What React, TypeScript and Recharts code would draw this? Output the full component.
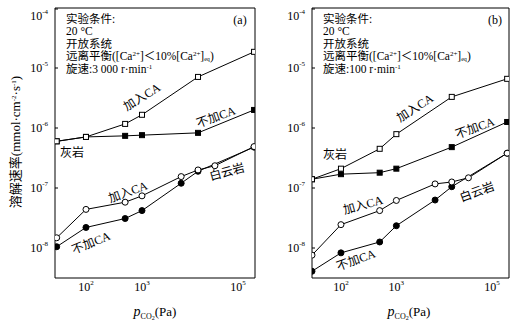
import React from "react";
import { LineChart, Line, XAxis, YAxis } from "recharts";

// CO2 partial pressures (Pa)
const P_LIME = [30, 100, 500, 1000, 10000, 100000];
const P_DOLO_CA = [30, 100, 500, 1000, 5000, 10000, 20000, 100000];
const P_DOLO_NO = [30, 100, 500, 1000, 5000, 10000, 100000];

// (a) 3000 r/min — dissolution rate, mmol·cm-2·s-1
const A_LIME_CA = [6.0e-7, 7.1e-7, 1.17e-6, 1.66e-6, 7.1e-6, 1.86e-5];
const A_LIME_NO = [6.0e-7, 7.1e-7, 7.4e-7, 7.6e-7, 8.3e-7, 2.0e-6];
const A_DOLO_CA = [1.48e-8, 4.4e-8, 5.8e-8, 7.4e-8, 1.55e-7, 2.0e-7, 2.35e-7, 4.9e-7];
const A_DOLO_NO = [1.05e-8, 2.2e-8, 3.1e-8, 4.2e-8, 1.2e-7, 1.9e-7, 4.8e-7];

// (b) 100 r/min
const B_LIME_CA = [1.4e-7, 2.1e-7, 4.5e-7, 7.9e-7, 3.3e-6, 6.6e-6];
const B_LIME_NO = [1.4e-7, 1.7e-7, 1.8e-7, 2.1e-7, 4.8e-7, 1.26e-6];
const B_DOLO_CA = [7.6e-9, 2.45e-8, 4.2e-8, 6.2e-8, 1.17e-7, 1.26e-7, 1.48e-7, 3.8e-7];
const B_DOLO_NO = [4.1e-9, 8.3e-9, 1.26e-8, 2.35e-8, 6.3e-8, 1.05e-7, 3.8e-7];

const X_TICKS = [100, 1000, 10000, 100000];
const Y_TICKS = [1e-8, 1e-7, 1e-6, 1e-5, 1e-4];

const SERIF = '"Liberation Serif", "Times New Roman", "Noto Sans CJK SC", serif';

const zip = (p: number[], v: number[]) => p.map((x, i) => ({ p: x, v: v[i] }));

const exp = (v: number) => Math.round(Math.log10(v));

const YTick = (props: any) => {
  const { x, y, payload } = props;
  const e = exp(payload.value);
  const ty = e === -4 ? y + 7 : y;
  return (
    <g>
      <line x1={x + 6} x2={x + 9} y1={y} y2={y} stroke="#000" />
      <text x={x - 1} y={ty + 4} textAnchor="end" fontFamily={SERIF} fontSize={12} fill="#000">
        10
        <tspan dy={-6} fontSize={7}>
          -{Math.abs(e)}
        </tspan>
      </text>
    </g>
  );
};

const XTick = (props: any) => {
  const { x, y, payload } = props;
  return (
    <text x={x} y={y + 9} textAnchor="middle" fontFamily={SERIF} fontSize={12} fill="#000">
      10
      <tspan dy={-6} fontSize={7}>
        {exp(payload.value)}
      </tspan>
    </text>
  );
};

const square = (filled: boolean) => (p: any) => (
  <rect
    key={`s${p.index}`}
    x={p.cx - 2.5}
    y={p.cy - 2.5}
    width={5}
    height={5}
    fill={filled ? "#000" : "#fff"}
    stroke="#000"
    strokeWidth={1}
  />
);

const circle = (filled: boolean) => (p: any) => (
  <circle key={`c${p.index}`} cx={p.cx} cy={p.cy} r={3} fill={filled ? "#000" : "#fff"} stroke="#000" strokeWidth={1} />
);

interface PanelProps {
  left: number;
  width: number;
  xDomain: [number, number];
  limeCa: number[];
  limeNo: number[];
  doloCa: number[];
  doloNo: number[];
}

function Panel({ left, width, xDomain, limeCa, limeNo, doloCa, doloNo }: PanelProps) {
  const common = {
    type: "linear" as const,
    dataKey: "v",
    stroke: "#000",
    strokeWidth: 1,
    isAnimationActive: false,
    xAxisId: "b",
    yAxisId: "l",
  };
  return (
    <div style={{ position: "absolute", left, top: 0 }}>
      <LineChart width={width} height={321} margin={{ top: 7, right: 6, bottom: 0, left: 0 }}>
        <XAxis
          xAxisId="b"
          dataKey="p"
          type="number"
          scale="log"
          domain={xDomain}
          allowDataOverflow
          ticks={X_TICKS}
          tick={<XTick />}
          tickLine={false}
          tickSize={0}
          tickMargin={4}
          height={43}
          axisLine={{ stroke: "#000" }}
        />
        <XAxis
          xAxisId="t"
          orientation="top"
          type="number"
          scale="log"
          domain={xDomain}
          allowDataOverflow
          tick={false}
          tickLine={false}
          height={1}
          axisLine={{ stroke: "#000" }}
        />
        <YAxis
          yAxisId="l"
          type="number"
          scale="log"
          domain={[Math.pow(10, -8.5), 1e-4]}
          allowDataOverflow
          ticks={Y_TICKS}
          tick={<YTick />}
          tickLine={false}
          tickSize={0}
          tickMargin={6}
          width={55}
          axisLine={{ stroke: "#000" }}
        />
        <YAxis
          yAxisId="r"
          orientation="right"
          type="number"
          scale="log"
          domain={[Math.pow(10, -8.5), 1e-4]}
          allowDataOverflow
          tick={false}
          tickLine={false}
          width={1}
          axisLine={{ stroke: "#000" }}
        />
        <Line {...common} data={zip(P_LIME, limeNo)} dot={square(true)} />
        <Line {...common} data={zip(P_LIME, limeCa)} dot={square(false)} />
        <Line {...common} data={zip(P_DOLO_NO, doloNo)} dot={circle(true)} />
        <Line {...common} data={zip(P_DOLO_CA, doloCa)} dot={circle(false)} />
      </LineChart>
    </div>
  );
}

const Note = ({ x, y, rot = 0, children }: { x: number; y: number; rot?: number; children: React.ReactNode }) => (
  <div
    style={{
      position: "absolute",
      left: x,
      top: y,
      transform: `translate(-50%, -50%) rotate(${rot}deg)`,
      whiteSpace: "nowrap",
      fontSize: 12,
      lineHeight: 1,
    }}
  >
    {children}
  </div>
);

// raised / lowered small text that does not stretch the line box
const sup = (s: string) => (
  <span style={{ fontSize: 7, position: "relative", top: -4, lineHeight: 0 }}>{s}</span>
);
const sub = (s: string) => (
  <span style={{ fontSize: 6, position: "relative", top: 1, lineHeight: 0 }}>{s}</span>
);

const CondLine = ({ y, children }: { y: number; children: React.ReactNode }) => (
  <div style={{ position: "absolute", left: 0, top: y - 5.5, lineHeight: "11px", whiteSpace: "nowrap" }}>{children}</div>
);

const Conditions = ({ x, speed }: { x: number; speed: string }) => (
  <div style={{ position: "absolute", left: x, top: 0, fontSize: 11.5 }}>
    <CondLine y={19}>实验条件:</CondLine>
    <CondLine y={31.5}>20 °C</CondLine>
    <CondLine y={44}>开放系统</CondLine>
    <CondLine y={56.5}>
      远离平衡([Ca{sup("2+")}]＜10%[Ca{sup("2+")}]{sub("eq")})
    </CondLine>
    <CondLine y={69}>
      旋速:{speed} r·min{sup("-1")}
    </CondLine>
  </div>
);

const XLabel = ({ x }: { x: number }) => (
  <Note x={x} y={312}>
    <span style={{ fontStyle: "italic", fontSize: 14 }}>p</span>
    <span style={{ fontSize: 8, position: "relative", top: 3 }}>CO</span>
    <span style={{ fontSize: 6, position: "relative", top: 4 }}>2</span>
    <span style={{ fontSize: 13 }}>(Pa)</span>
  </Note>
);

export default function App() {
  return (
    <div
      style={{
        position: "absolute",
        left: 0,
        top: 0,
        width: 516,
        height: 321,
        background: "#fff",
        fontFamily: SERIF,
        color: "#000",
        overflow: "hidden",
      }}
    >
      <Panel
        left={0}
        width={262}
        xDomain={[28, 104000]}
        limeCa={A_LIME_CA}
        limeNo={A_LIME_NO}
        doloCa={A_DOLO_CA}
        doloNo={A_DOLO_NO}
      />
      <Panel
        left={257}
        width={259}
        xDomain={[30, 108000]}
        limeCa={B_LIME_CA}
        limeNo={B_LIME_NO}
        doloCa={B_DOLO_CA}
        doloNo={B_DOLO_NO}
      />

      {/* panel (a) */}
      <Conditions x={66} speed="3 000" />
      <Note x={240} y={20}>(a)</Note>
      <Note x={142} y={97} rot={-32}>加入CA</Note>
      <Note x={216} y={117} rot={-20}>不加CA</Note>
      <Note x={72} y={153}>灰岩</Note>
      <Note x={128} y={192} rot={-20}>加入CA</Note>
      <Note x={91} y={243} rot={-22}>不加CA</Note>
      <Note x={227} y={172} rot={-15}>白云岩</Note>
      <Note x={15} y={142} rot={-90}>
        <span style={{ fontSize: 13 }}>
          溶解速率(mmol·cm{sup("-2")}·s{sup("-1")})
        </span>
      </Note>
      <XLabel x={155} />

      {/* panel (b) */}
      <Conditions x={323} speed="100" />
      <Note x={495} y={20}>(b)</Note>
      <Note x={415} y={108} rot={-33}>加入CA</Note>
      <Note x={475} y={128} rot={-20}>不加CA</Note>
      <Note x={335} y={155}>灰岩</Note>
      <Note x={363} y={205} rot={-15}>加入CA</Note>
      <Note x={356} y={260} rot={-20}>不加CA</Note>
      <Note x={477} y={192} rot={-20}>白云岩</Note>
      <XLabel x={409} />
    </div>
  );
}
